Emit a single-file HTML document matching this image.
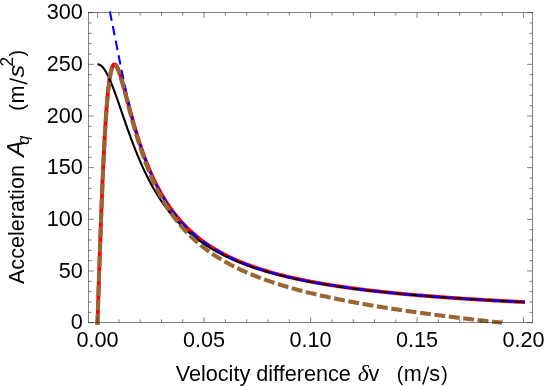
<!DOCTYPE html>
<html><head><meta charset="utf-8"><title>plot</title>
<style>
html,body{margin:0;padding:0;background:#fff;}
body{width:545px;height:386px;overflow:hidden;}
svg{display:block;}
text{font-family:"Liberation Sans",sans-serif;fill:#000;}
.it{font-style:italic;}
.ser{font-family:"Liberation Serif",serif;font-style:italic;}
</style></head><body>
<svg width="545" height="386" viewBox="0 0 545 386">
<rect x="0" y="0" width="545" height="386" fill="#fff"/>
<g fill="none" stroke-linejoin="round">
<path d="M97.43,324.85 L97.50,322.65 L97.50,322.61 L97.50,322.51 L97.51,322.32 L97.52,322.07 L97.53,321.75 L97.54,321.35 L97.56,320.88 L97.58,320.34 L97.60,319.72 L97.62,319.04 L97.64,318.28 L97.67,317.45 L97.70,316.55 L97.73,315.57 L97.77,314.53 L97.80,313.41 L97.84,312.22 L97.89,310.95 L97.93,309.62 L97.98,308.21 L98.03,306.74 L98.08,305.19 L98.13,303.57 L98.19,301.88 L98.24,300.12 L98.31,298.29 L98.37,296.39 L98.43,294.42 L98.50,292.38 L98.57,290.27 L98.64,288.10 L98.72,285.85 L98.80,283.54 L98.88,281.17 L98.96,278.73 L99.04,276.22 L99.13,273.65 L99.22,271.02 L99.31,268.33 L99.41,265.57 L99.50,262.76 L99.60,259.89 L99.70,256.96 L99.81,253.98 L99.91,250.95 L100.02,247.86 L100.13,244.72 L100.24,241.54 L100.36,238.31 L100.48,235.03 L100.60,231.71 L100.72,228.36 L100.85,224.96 L100.97,221.53 L101.10,218.07 L101.24,214.58 L101.37,211.06 L101.51,207.52 L101.65,203.95 L101.79,200.37 L101.93,196.77 L102.08,193.16 L102.23,189.54 L102.38,185.92 L102.53,182.29 L102.69,178.67 L102.85,175.05 L103.01,171.44 L103.17,167.84 L103.34,164.26 L103.50,160.69 L103.68,157.15 L103.85,153.63 L104.02,150.15 L104.20,146.69 L104.38,143.28 L104.56,139.90 L104.75,136.57 L104.93,133.28 L105.12,130.05 L105.32,126.86 L105.51,123.74 L105.71,120.67 L105.91,117.67 L106.11,114.73 L106.31,111.87 L106.52,109.07 L106.72,106.34 L106.94,103.69 L107.15,101.12 L107.36,98.63 L107.58,96.22 L107.80,93.89 L108.03,91.65 L108.25,89.49 L108.48,87.42 L108.71,85.44 L108.94,83.55 L109.18,81.74 L109.41,80.03 L109.65,78.41 L109.89,76.88 L110.14,75.44 L110.38,74.09 L110.63,72.84 L110.88,71.67 L111.14,70.59 L111.39,69.61 L111.65,68.71 L111.91,67.89 L112.18,67.17 L112.44,66.53 L112.71,65.97 L112.98,65.50 L113.25,65.11 L113.53,64.80 L113.81,64.57 L114.09,64.41 L114.37,64.33 L114.65,64.32 L114.94,64.39 L115.23,64.52 L115.52,64.72 L115.82,64.99 L116.11,65.32 L116.41,65.71 L116.71,66.17 L117.02,66.68 L117.32,67.24 L117.63,67.87 L117.94,68.54 L118.26,69.26 L118.57,70.03 L118.89,70.85 L119.21,71.71 L119.53,72.62 L119.86,73.56 L120.19,74.54 L120.52,75.56 L120.85,76.62 L121.18,77.71 L121.52,78.83 L121.86,79.98 L122.20,81.15 L122.55,82.36 L122.89,83.59 L123.24,84.84 L123.59,86.11 L123.95,87.41 L124.30,88.72 L124.66,90.05 L125.02,91.40 L125.38,92.77 L125.75,94.14 L126.12,95.54 L126.49,96.94 L126.86,98.35 L127.24,99.77 L127.61,101.20 L127.99,102.64 L128.38,104.09 L128.76,105.54 L129.15,106.99 L129.54,108.45 L129.93,109.91 L130.32,111.37 L130.72,112.84 L131.12,114.31 L131.52,115.77 L131.93,117.24 L132.33,118.70 L132.74,120.17 L133.15,121.63 L133.56,123.09 L133.98,124.54 L134.40,125.99 L134.82,127.44 L135.24,128.88 L135.67,130.32 L136.10,131.75 L136.53,133.18 L136.96,134.60 L137.39,136.01 L137.83,137.42 L138.27,138.82 L138.71,140.21 L139.16,141.59 L139.60,142.97 L140.05,144.34 L140.50,145.70 L140.96,147.05 L141.41,148.40 L141.87,149.73 L142.33,151.06 L142.80,152.38 L143.26,153.69 L143.73,154.99 L144.20,156.28 L144.67,157.56 L145.15,158.83 L145.63,160.09 L146.11,161.34 L146.59,162.59 L147.07,163.82 L147.56,165.04 L148.05,166.26 L148.54,167.46 L149.04,168.65 L149.53,169.84 L150.03,171.01 L150.53,172.18 L151.04,173.33 L151.54,174.48 L152.05,175.61 L152.56,176.74 L153.08,177.85 L153.59,178.96 L154.11,180.05 L154.63,181.14 L155.15,182.21 L155.68,183.28 L156.21,184.34 L156.74,185.39 L157.27,186.42 L157.80,187.45 L158.34,188.47 L158.88,189.48 L159.42,190.48 L159.97,191.47 L160.51,192.46 L161.06,193.43 L161.62,194.39 L162.17,195.35 L162.73,196.30 L163.28,197.23 L163.85,198.16 L164.41,199.08 L164.97,199.99 L165.54,200.90 L166.11,201.79 L166.69,202.68 L167.26,203.55 L167.84,204.42 L168.42,205.29 L169.00,206.14 L169.59,206.98 L170.17,207.82 L170.76,208.65 L171.36,209.47 L171.95,210.28 L172.55,211.09 L173.15,211.89 L173.75,212.68 L174.35,213.46 L174.96,214.24 L175.57,215.00 L176.18,215.76 L176.79,216.52 L177.41,217.26 L178.03,218.00 L178.65,218.74 L179.27,219.46 L179.89,220.18 L180.52,220.89 L181.15,221.60 L181.78,222.30 L182.42,222.99 L183.06,223.67 L183.70,224.35 L184.34,225.03 L184.98,225.69 L185.63,226.35 L186.28,227.01 L186.93,227.65 L187.58,228.30 L188.24,228.93 L188.90,229.56 L189.56,230.19 L190.22,230.80 L190.89,231.42 L191.56,232.02 L192.23,232.62 L192.90,233.22 L193.58,233.81 L194.26,234.40 L194.94,234.97 L195.62,235.55 L196.30,236.12 L196.99,236.68 L197.68,237.24 L198.37,237.79 L199.07,238.34 L199.76,238.88 L200.46,239.42 L201.16,239.96 L201.87,240.49 L202.58,241.01 L203.28,241.53 L203.99,242.04 L204.71,242.55 L205.42,243.06 L206.14,243.56 L206.86,244.06 L207.59,244.55 L208.31,245.04 L209.04,245.52 L209.77,246.00 L210.50,246.47 L211.24,246.94 L211.97,247.41 L212.71,247.87 L213.46,248.33 L214.20,248.78 L214.95,249.23 L215.70,249.68 L216.45,250.12 L217.20,250.56 L217.96,251.00 L218.72,251.43 L219.48,251.86 L220.24,252.28 L221.01,252.70 L221.78,253.12 L222.55,253.53 L223.32,253.94 L224.10,254.34 L224.87,254.75 L225.65,255.15 L226.44,255.54 L227.22,255.93 L228.01,256.32 L228.80,256.71 L229.59,257.09 L230.39,257.47 L231.18,257.85 L231.98,258.22 L232.78,258.59 L233.59,258.96 L234.39,259.32 L235.20,259.68 L236.01,260.04 L236.83,260.39 L237.64,260.74 L238.46,261.09 L239.28,261.44 L240.11,261.78 L240.93,262.12 L241.76,262.46 L242.59,262.80 L243.42,263.13 L244.26,263.46 L245.10,263.78 L245.93,264.11 L246.78,264.43 L247.62,264.75 L248.47,265.07 L249.32,265.38 L250.17,265.69 L251.02,266.00 L251.88,266.31 L252.74,266.61 L253.60,266.91 L254.46,267.21 L255.33,267.51 L256.20,267.81 L257.07,268.10 L257.94,268.39 L258.82,268.68 L259.70,268.96 L260.58,269.25 L261.46,269.53 L262.34,269.81 L263.23,270.08 L264.12,270.36 L265.01,270.63 L265.91,270.90 L266.80,271.17 L267.70,271.44 L268.61,271.70 L269.51,271.96 L270.42,272.22 L271.33,272.48 L272.24,272.74 L273.15,273.00 L274.07,273.25 L274.98,273.50 L275.91,273.75 L276.83,274.00 L277.75,274.24 L278.68,274.48 L279.61,274.73 L280.55,274.97 L281.48,275.20 L282.42,275.44 L283.36,275.68 L284.30,275.91 L285.24,276.14 L286.19,276.37 L287.14,276.60 L288.09,276.82 L289.05,277.05 L290.00,277.27 L290.96,277.49 L291.92,277.71 L292.89,277.93 L293.85,278.15 L294.82,278.36 L295.79,278.58 L296.77,278.79 L297.74,279.00 L298.72,279.21 L299.70,279.42 L300.68,279.62 L301.67,279.83 L302.66,280.03 L303.65,280.23 L304.64,280.43 L305.63,280.63 L306.63,280.83 L307.63,281.03 L308.63,281.22 L309.63,281.41 L310.64,281.61 L311.65,281.80 L312.66,281.99 L313.68,282.18 L314.69,282.36 L315.71,282.55 L316.73,282.73 L317.75,282.92 L318.78,283.10 L319.81,283.28 L320.84,283.46 L321.87,283.64 L322.91,283.81 L323.94,283.99 L324.98,284.16 L326.03,284.34 L327.07,284.51 L328.12,284.68 L329.17,284.85 L330.22,285.02 L331.27,285.19 L332.33,285.36 L333.39,285.52 L334.45,285.69 L335.51,285.85 L336.58,286.01 L337.65,286.17 L338.72,286.33 L339.79,286.49 L340.87,286.65 L341.95,286.81 L343.03,286.96 L344.11,287.12 L345.19,287.27 L346.28,287.43 L347.37,287.58 L348.46,287.73 L349.56,287.88 L350.66,288.03 L351.76,288.18 L352.86,288.33 L353.96,288.47 L355.07,288.62 L356.18,288.76 L357.29,288.91 L358.40,289.05 L359.52,289.19 L360.64,289.33 L361.76,289.47 L362.88,289.61 L364.01,289.75 L365.14,289.89 L366.27,290.02 L367.40,290.16 L368.53,290.29 L369.67,290.43 L370.81,290.56 L371.95,290.69 L373.10,290.83 L374.25,290.96 L375.40,291.09 L376.55,291.22 L377.70,291.35 L378.86,291.47 L380.02,291.60 L381.18,291.73 L382.34,291.85 L383.51,291.98 L384.68,292.10 L385.85,292.22 L387.02,292.35 L388.20,292.47 L389.38,292.59 L390.56,292.71 L391.74,292.83 L392.92,292.95 L394.11,293.07 L395.30,293.18 L396.49,293.30 L397.69,293.42 L398.89,293.53 L400.09,293.65 L401.29,293.76 L402.49,293.87 L403.70,293.99 L404.91,294.10 L406.12,294.21 L407.33,294.32 L408.55,294.43 L409.77,294.54 L410.99,294.65 L412.21,294.76 L413.44,294.86 L414.67,294.97 L415.90,295.08 L417.13,295.18 L418.36,295.29 L419.60,295.39 L420.84,295.50 L422.08,295.60 L423.33,295.70 L424.58,295.81 L425.83,295.91 L427.08,296.01 L428.33,296.11 L429.59,296.21 L430.85,296.31 L432.11,296.41 L433.37,296.51 L434.64,296.60 L435.91,296.70 L437.18,296.80 L438.45,296.89 L439.73,296.99 L441.01,297.08 L442.29,297.18 L443.57,297.27 L444.86,297.37 L446.14,297.46 L447.43,297.55 L448.73,297.64 L450.02,297.73 L451.32,297.82 L452.62,297.92 L453.92,298.01 L455.22,298.09 L456.53,298.18 L457.84,298.27 L459.15,298.36 L460.47,298.45 L461.78,298.53 L463.10,298.62 L464.42,298.71 L465.74,298.79 L467.07,298.88 L468.40,298.96 L469.73,299.05 L471.06,299.13 L472.40,299.21 L473.74,299.30 L475.08,299.38 L476.42,299.46 L477.76,299.54 L479.11,299.63 L480.46,299.71 L481.81,299.79 L483.17,299.87 L484.52,299.95 L485.88,300.03 L487.24,300.10 L488.61,300.18 L489.97,300.26 L491.34,300.34 L492.71,300.41 L494.09,300.49 L495.46,300.57 L496.84,300.64 L498.22,300.72 L499.60,300.79 L500.99,300.87 L502.38,300.94 L503.77,301.02 L505.16,301.09 L506.56,301.16 L507.95,301.24 L509.35,301.31 L510.75,301.38 L512.16,301.45 L513.57,301.53 L514.97,301.60 L516.39,301.67 L517.80,301.74 L519.22,301.81 L520.64,301.88 L522.06,301.95 L523.48,302.02 L524.91,302.08" stroke="#ff0000" stroke-width="3.8"/>
<path d="M97.50,64.32 L97.50,64.32 L97.50,64.32 L97.51,64.32 L97.52,64.32 L97.53,64.32 L97.54,64.32 L97.56,64.32 L97.58,64.32 L97.60,64.32 L97.62,64.32 L97.64,64.32 L97.67,64.32 L97.70,64.32 L97.73,64.32 L97.77,64.32 L97.80,64.33 L97.84,64.33 L97.89,64.33 L97.93,64.34 L97.98,64.34 L98.03,64.35 L98.08,64.35 L98.13,64.36 L98.19,64.37 L98.24,64.38 L98.31,64.39 L98.37,64.40 L98.43,64.41 L98.50,64.43 L98.57,64.44 L98.64,64.46 L98.72,64.48 L98.80,64.50 L98.88,64.53 L98.96,64.55 L99.04,64.58 L99.13,64.61 L99.22,64.65 L99.31,64.68 L99.41,64.72 L99.50,64.76 L99.60,64.81 L99.70,64.85 L99.81,64.91 L99.91,64.96 L100.02,65.02 L100.13,65.08 L100.24,65.15 L100.36,65.22 L100.48,65.30 L100.60,65.38 L100.72,65.46 L100.85,65.55 L100.97,65.65 L101.10,65.75 L101.24,65.85 L101.37,65.97 L101.51,66.08 L101.65,66.21 L101.79,66.34 L101.93,66.47 L102.08,66.62 L102.23,66.77 L102.38,66.92 L102.53,67.09 L102.69,67.26 L102.85,67.44 L103.01,67.63 L103.17,67.82 L103.34,68.02 L103.50,68.24 L103.68,68.46 L103.85,68.68 L104.02,68.92 L104.20,69.17 L104.38,69.43 L104.56,69.69 L104.75,69.97 L104.93,70.25 L105.12,70.55 L105.32,70.85 L105.51,71.17 L105.71,71.50 L105.91,71.83 L106.11,72.18 L106.31,72.54 L106.52,72.91 L106.72,73.29 L106.94,73.68 L107.15,74.09 L107.36,74.50 L107.58,74.93 L107.80,75.37 L108.03,75.82 L108.25,76.28 L108.48,76.76 L108.71,77.25 L108.94,77.75 L109.18,78.26 L109.41,78.78 L109.65,79.32 L109.89,79.87 L110.14,80.43 L110.38,81.01 L110.63,81.60 L110.88,82.20 L111.14,82.81 L111.39,83.43 L111.65,84.07 L111.91,84.72 L112.18,85.38 L112.44,86.06 L112.71,86.75 L112.98,87.45 L113.25,88.16 L113.53,88.88 L113.81,89.62 L114.09,90.37 L114.37,91.13 L114.65,91.90 L114.94,92.68 L115.23,93.48 L115.52,94.28 L115.82,95.10 L116.11,95.93 L116.41,96.76 L116.71,97.61 L117.02,98.47 L117.32,99.34 L117.63,100.22 L117.94,101.11 L118.26,102.01 L118.57,102.92 L118.89,103.84 L119.21,104.77 L119.53,105.71 L119.86,106.65 L120.19,107.60 L120.52,108.56 L120.85,109.53 L121.18,110.51 L121.52,111.49 L121.86,112.48 L122.20,113.48 L122.55,114.48 L122.89,115.49 L123.24,116.51 L123.59,117.53 L123.95,118.56 L124.30,119.59 L124.66,120.63 L125.02,121.67 L125.38,122.71 L125.75,123.76 L126.12,124.82 L126.49,125.88 L126.86,126.94 L127.24,128.00 L127.61,129.07 L127.99,130.14 L128.38,131.21 L128.76,132.28 L129.15,133.35 L129.54,134.43 L129.93,135.51 L130.32,136.59 L130.72,137.67 L131.12,138.75 L131.52,139.83 L131.93,140.91 L132.33,141.98 L132.74,143.06 L133.15,144.14 L133.56,145.22 L133.98,146.30 L134.40,147.37 L134.82,148.45 L135.24,149.52 L135.67,150.59 L136.10,151.66 L136.53,152.73 L136.96,153.79 L137.39,154.85 L137.83,155.91 L138.27,156.97 L138.71,158.02 L139.16,159.07 L139.60,160.11 L140.05,161.16 L140.50,162.20 L140.96,163.23 L141.41,164.26 L141.87,165.29 L142.33,166.31 L142.80,167.33 L143.26,168.35 L143.73,169.36 L144.20,170.37 L144.67,171.37 L145.15,172.36 L145.63,173.36 L146.11,174.34 L146.59,175.32 L147.07,176.30 L147.56,177.27 L148.05,178.24 L148.54,179.20 L149.04,180.16 L149.53,181.11 L150.03,182.05 L150.53,182.99 L151.04,183.93 L151.54,184.85 L152.05,185.78 L152.56,186.70 L153.08,187.61 L153.59,188.51 L154.11,189.41 L154.63,190.31 L155.15,191.20 L155.68,192.08 L156.21,192.95 L156.74,193.83 L157.27,194.69 L157.80,195.55 L158.34,196.40 L158.88,197.25 L159.42,198.09 L159.97,198.93 L160.51,199.76 L161.06,200.58 L161.62,201.40 L162.17,202.21 L162.73,203.02 L163.28,203.82 L163.85,204.61 L164.41,205.40 L164.97,206.18 L165.54,206.96 L166.11,207.73 L166.69,208.50 L167.26,209.26 L167.84,210.01 L168.42,210.76 L169.00,211.50 L169.59,212.24 L170.17,212.97 L170.76,213.69 L171.36,214.41 L171.95,215.13 L172.55,215.83 L173.15,216.54 L173.75,217.24 L174.35,217.93 L174.96,218.61 L175.57,219.29 L176.18,219.97 L176.79,220.64 L177.41,221.30 L178.03,221.96 L178.65,222.62 L179.27,223.27 L179.89,223.91 L180.52,224.55 L181.15,225.18 L181.78,225.81 L182.42,226.43 L183.06,227.05 L183.70,227.67 L184.34,228.27 L184.98,228.88 L185.63,229.48 L186.28,230.07 L186.93,230.66 L187.58,231.24 L188.24,231.82 L188.90,232.40 L189.56,232.97 L190.22,233.53 L190.89,234.09 L191.56,234.65 L192.23,235.20 L192.90,235.75 L193.58,236.29 L194.26,236.83 L194.94,237.36 L195.62,237.89 L196.30,238.41 L196.99,238.93 L197.68,239.45 L198.37,239.96 L199.07,240.47 L199.76,240.97 L200.46,241.47 L201.16,241.97 L201.87,242.46 L202.58,242.95 L203.28,243.43 L203.99,243.91 L204.71,244.39 L205.42,244.86 L206.14,245.33 L206.86,245.79 L207.59,246.25 L208.31,246.71 L209.04,247.16 L209.77,247.61 L210.50,248.06 L211.24,248.50 L211.97,248.94 L212.71,249.37 L213.46,249.81 L214.20,250.23 L214.95,250.66 L215.70,251.08 L216.45,251.50 L217.20,251.91 L217.96,252.32 L218.72,252.73 L219.48,253.14 L220.24,253.54 L221.01,253.94 L221.78,254.33 L222.55,254.72 L223.32,255.11 L224.10,255.50 L224.87,255.88 L225.65,256.26 L226.44,256.64 L227.22,257.01 L228.01,257.38 L228.80,257.75 L229.59,258.11 L230.39,258.47 L231.18,258.83 L231.98,259.19 L232.78,259.54 L233.59,259.89 L234.39,260.24 L235.20,260.59 L236.01,260.93 L236.83,261.27 L237.64,261.61 L238.46,261.94 L239.28,262.27 L240.11,262.60 L240.93,262.93 L241.76,263.26 L242.59,263.58 L243.42,263.90 L244.26,264.21 L245.10,264.53 L245.93,264.84 L246.78,265.15 L247.62,265.46 L248.47,265.76 L249.32,266.07 L250.17,266.37 L251.02,266.67 L251.88,266.96 L252.74,267.26 L253.60,267.55 L254.46,267.84 L255.33,268.13 L256.20,268.41 L257.07,268.69 L257.94,268.97 L258.82,269.25 L259.70,269.53 L260.58,269.80 L261.46,270.08 L262.34,270.35 L263.23,270.62 L264.12,270.88 L265.01,271.15 L265.91,271.41 L266.80,271.67 L267.70,271.93 L268.61,272.19 L269.51,272.44 L270.42,272.70 L271.33,272.95 L272.24,273.20 L273.15,273.45 L274.07,273.69 L274.98,273.94 L275.91,274.18 L276.83,274.42 L277.75,274.66 L278.68,274.90 L279.61,275.13 L280.55,275.37 L281.48,275.60 L282.42,275.83 L283.36,276.06 L284.30,276.28 L285.24,276.51 L286.19,276.73 L287.14,276.96 L288.09,277.18 L289.05,277.40 L290.00,277.62 L290.96,277.83 L291.92,278.05 L292.89,278.26 L293.85,278.47 L294.82,278.68 L295.79,278.89 L296.77,279.10 L297.74,279.31 L298.72,279.51 L299.70,279.71 L300.68,279.92 L301.67,280.12 L302.66,280.32 L303.65,280.51 L304.64,280.71 L305.63,280.91 L306.63,281.10 L307.63,281.29 L308.63,281.48 L309.63,281.67 L310.64,281.86 L311.65,282.05 L312.66,282.24 L313.68,282.42 L314.69,282.60 L315.71,282.79 L316.73,282.97 L317.75,283.15 L318.78,283.33 L319.81,283.50 L320.84,283.68 L321.87,283.86 L322.91,284.03 L323.94,284.20 L324.98,284.38 L326.03,284.55 L327.07,284.72 L328.12,284.88 L329.17,285.05 L330.22,285.22 L331.27,285.38 L332.33,285.55 L333.39,285.71 L334.45,285.87 L335.51,286.03 L336.58,286.19 L337.65,286.35 L338.72,286.51 L339.79,286.67 L340.87,286.82 L341.95,286.98 L343.03,287.13 L344.11,287.29 L345.19,287.44 L346.28,287.59 L347.37,287.74 L348.46,287.89 L349.56,288.04 L350.66,288.18 L351.76,288.33 L352.86,288.48 L353.96,288.62 L355.07,288.76 L356.18,288.91 L357.29,289.05 L358.40,289.19 L359.52,289.33 L360.64,289.47 L361.76,289.61 L362.88,289.75 L364.01,289.88 L365.14,290.02 L366.27,290.15 L367.40,290.29 L368.53,290.42 L369.67,290.55 L370.81,290.69 L371.95,290.82 L373.10,290.95 L374.25,291.08 L375.40,291.20 L376.55,291.33 L377.70,291.46 L378.86,291.59 L380.02,291.71 L381.18,291.84 L382.34,291.96 L383.51,292.08 L384.68,292.21 L385.85,292.33 L387.02,292.45 L388.20,292.57 L389.38,292.69 L390.56,292.81 L391.74,292.93 L392.92,293.05 L394.11,293.16 L395.30,293.28 L396.49,293.39 L397.69,293.51 L398.89,293.62 L400.09,293.74 L401.29,293.85 L402.49,293.96 L403.70,294.07 L404.91,294.18 L406.12,294.30 L407.33,294.41 L408.55,294.51 L409.77,294.62 L410.99,294.73 L412.21,294.84 L413.44,294.94 L414.67,295.05 L415.90,295.16 L417.13,295.26 L418.36,295.37 L419.60,295.47 L420.84,295.57 L422.08,295.67 L423.33,295.78 L424.58,295.88 L425.83,295.98 L427.08,296.08 L428.33,296.18 L429.59,296.28 L430.85,296.38 L432.11,296.47 L433.37,296.57 L434.64,296.67 L435.91,296.77 L437.18,296.86 L438.45,296.96 L439.73,297.05 L441.01,297.15 L442.29,297.24 L443.57,297.33 L444.86,297.43 L446.14,297.52 L447.43,297.61 L448.73,297.70 L450.02,297.79 L451.32,297.88 L452.62,297.97 L453.92,298.06 L455.22,298.15 L456.53,298.24 L457.84,298.33 L459.15,298.41 L460.47,298.50 L461.78,298.59 L463.10,298.67 L464.42,298.76 L465.74,298.84 L467.07,298.93 L468.40,299.01 L469.73,299.10 L471.06,299.18 L472.40,299.26 L473.74,299.35 L475.08,299.43 L476.42,299.51 L477.76,299.59 L479.11,299.67 L480.46,299.75 L481.81,299.83 L483.17,299.91 L484.52,299.99 L485.88,300.07 L487.24,300.15 L488.61,300.22 L489.97,300.30 L491.34,300.38 L492.71,300.46 L494.09,300.53 L495.46,300.61 L496.84,300.68 L498.22,300.76 L499.60,300.83 L500.99,300.91 L502.38,300.98 L503.77,301.06 L505.16,301.13 L506.56,301.20 L507.95,301.27 L509.35,301.35 L510.75,301.42 L512.16,301.49 L513.57,301.56 L514.97,301.63 L516.39,301.70 L517.80,301.77 L519.22,301.84 L520.64,301.91 L522.06,301.98 L523.48,302.05 L524.91,302.12" stroke="#000" stroke-width="2.1"/>
<path d="M109.86,11.41 L109.86,11.42 L109.86,11.43 L109.87,11.46 L109.88,11.50 L109.89,11.56 L109.90,11.62 L109.92,11.70 L109.93,11.79 L109.95,11.89 L109.98,12.00 L110.00,12.12 L110.03,12.26 L110.06,12.41 L110.09,12.57 L110.12,12.74 L110.16,12.92 L110.19,13.11 L110.23,13.32 L110.28,13.54 L110.32,13.76 L110.37,14.00 L110.42,14.26 L110.47,14.52 L110.53,14.79 L110.58,15.08 L110.64,15.38 L110.70,15.68 L110.77,16.00 L110.83,16.34 L110.90,16.68 L110.97,17.03 L111.04,17.40 L111.12,17.77 L111.20,18.16 L111.28,18.56 L111.36,18.97 L111.44,19.40 L111.53,19.83 L111.62,20.28 L111.71,20.73 L111.80,21.20 L111.90,21.68 L112.00,22.17 L112.10,22.68 L112.20,23.19 L112.31,23.72 L112.42,24.25 L112.53,24.80 L112.64,25.37 L112.75,25.94 L112.87,26.52 L112.99,27.12 L113.11,27.73 L113.23,28.35 L113.36,28.98 L113.49,29.63 L113.62,30.29 L113.75,30.95 L113.89,31.64 L114.02,32.33 L114.16,33.03 L114.31,33.75 L114.45,34.48 L114.60,35.22 L114.75,35.98 L114.90,36.74 L115.05,37.52 L115.21,38.31 L115.37,39.11 L115.53,39.93 L115.69,40.76 L115.86,41.59 L116.02,42.44 L116.19,43.31 L116.37,44.18 L116.54,45.07 L116.72,45.96 L116.90,46.87 L117.08,47.79 L117.26,48.73 L117.45,49.67 L117.64,50.62 L117.83,51.59 L118.02,52.56 L118.22,53.55 L118.42,54.55 L118.62,55.56 L118.82,56.57 L119.02,57.60 L119.23,58.64 L119.44,59.69 L119.65,60.75 L119.86,61.81 L120.08,62.89 L120.30,63.97 L120.52,65.07 L120.74,66.17 L120.97,67.28 L121.20,68.39 L121.43,69.52 L121.66,70.65 L121.89,71.79 L122.13,72.94 L122.37,74.10 L122.61,75.26 L122.86,76.43 L123.10,77.60 L123.35,78.78 L123.60,79.96 L123.86,81.15 L124.11,82.35 L124.37,83.55 L124.63,84.75 L124.89,85.96 L125.16,87.18 L125.43,88.39 L125.69,89.61 L125.97,90.84 L126.24,92.06 L126.52,93.29 L126.80,94.52 L127.08,95.76 L127.36,96.99 L127.65,98.23 L127.93,99.47 L128.22,100.71 L128.52,101.95 L128.81,103.20 L129.11,104.44 L129.41,105.68 L129.71,106.92 L130.02,108.17 L130.32,109.41 L130.63,110.65 L130.94,111.90 L131.26,113.14 L131.57,114.38 L131.89,115.62 L132.21,116.85 L132.53,118.09 L132.86,119.32 L133.18,120.55 L133.51,121.78 L133.85,123.01 L134.18,124.23 L134.52,125.45 L134.86,126.67 L135.20,127.88 L135.54,129.10 L135.89,130.30 L136.24,131.51 L136.59,132.71 L136.94,133.91 L137.29,135.10 L137.65,136.29 L138.01,137.48 L138.37,138.66 L138.74,139.83 L139.10,141.00 L139.47,142.17 L139.84,143.33 L140.22,144.49 L140.59,145.64 L140.97,146.79 L141.35,147.93 L141.74,149.07 L142.12,150.20 L142.51,151.32 L142.90,152.44 L143.29,153.56 L143.68,154.67 L144.08,155.77 L144.48,156.87 L144.88,157.96 L145.29,159.05 L145.69,160.13 L146.10,161.20 L146.51,162.27 L146.92,163.33 L147.34,164.38 L147.76,165.43 L148.18,166.48 L148.60,167.51 L149.02,168.54 L149.45,169.57 L149.88,170.59 L150.31,171.60 L150.74,172.60 L151.18,173.60 L151.62,174.59 L152.06,175.58 L152.50,176.56 L152.95,177.53 L153.40,178.50 L153.85,179.46 L154.30,180.41 L154.75,181.36 L155.21,182.30 L155.67,183.23 L156.13,184.16 L156.59,185.08 L157.06,186.00 L157.53,186.91 L158.00,187.81 L158.47,188.70 L158.95,189.59 L159.43,190.47 L159.91,191.35 L160.39,192.22 L160.87,193.08 L161.36,193.94 L161.85,194.79 L162.34,195.64 L162.83,196.47 L163.33,197.30 L163.83,198.13 L164.33,198.95 L164.83,199.76 L165.34,200.57 L165.85,201.37 L166.36,202.17 L166.87,202.95 L167.38,203.74 L167.90,204.51 L168.42,205.28 L168.94,206.05 L169.47,206.81 L169.99,207.56 L170.52,208.31 L171.05,209.05 L171.59,209.78 L172.12,210.51 L172.66,211.24 L173.20,211.96 L173.74,212.67 L174.29,213.38 L174.83,214.08 L175.38,214.77 L175.94,215.46 L176.49,216.15 L177.05,216.83 L177.60,217.50 L178.17,218.17 L178.73,218.83 L179.29,219.49 L179.86,220.14 L180.43,220.79 L181.01,221.43 L181.58,222.07 L182.16,222.70 L182.74,223.33 L183.32,223.95 L183.90,224.57 L184.49,225.18 L185.08,225.79 L185.67,226.39 L186.26,226.99 L186.86,227.58 L187.46,228.17 L188.06,228.75 L188.66,229.33 L189.26,229.91 L189.87,230.48 L190.48,231.04 L191.09,231.60 L191.71,232.16 L192.32,232.71 L192.94,233.26 L193.56,233.80 L194.19,234.34 L194.81,234.87 L195.44,235.40 L196.07,235.93 L196.70,236.45 L197.34,236.96 L197.98,237.48 L198.62,237.99 L199.26,238.49 L199.90,238.99 L200.55,239.49 L201.20,239.98 L201.85,240.47 L202.50,240.96 L203.16,241.44 L203.82,241.92 L204.48,242.39 L205.14,242.86 L205.81,243.33 L206.47,243.79 L207.14,244.25 L207.82,244.70 L208.49,245.15 L209.17,245.60 L209.85,246.05 L210.53,246.49 L211.21,246.93 L211.90,247.36 L212.58,247.79 L213.28,248.22 L213.97,248.64 L214.66,249.06 L215.36,249.48 L216.06,249.90 L216.76,250.31 L217.47,250.71 L218.17,251.12 L218.88,251.52 L219.59,251.92 L220.31,252.32 L221.02,252.71 L221.74,253.10 L222.46,253.48 L223.19,253.87 L223.91,254.25 L224.64,254.63 L225.37,255.00 L226.10,255.37 L226.84,255.74 L227.57,256.11 L228.31,256.47 L229.05,256.83 L229.80,257.19 L230.54,257.54 L231.29,257.90 L232.04,258.25 L232.80,258.59 L233.55,258.94 L234.31,259.28 L235.07,259.62 L235.83,259.96 L236.60,260.29 L237.36,260.62 L238.13,260.95 L238.90,261.28 L239.68,261.60 L240.45,261.93 L241.23,262.25 L242.01,262.56 L242.80,262.88 L243.58,263.19 L244.37,263.50 L245.16,263.81 L245.95,264.12 L246.75,264.42 L247.54,264.72 L248.34,265.02 L249.14,265.32 L249.95,265.61 L250.75,265.90 L251.56,266.20 L252.37,266.48 L253.19,266.77 L254.00,267.05 L254.82,267.34 L255.64,267.62 L256.46,267.90 L257.29,268.17 L258.11,268.45 L258.94,268.72 L259.78,268.99 L260.61,269.26 L261.45,269.52 L262.28,269.79 L263.13,270.05 L263.97,270.31 L264.81,270.57 L265.66,270.83 L266.51,271.08 L267.37,271.34 L268.22,271.59 L269.08,271.84 L269.94,272.09 L270.80,272.33 L271.66,272.58 L272.53,272.82 L273.40,273.06 L274.27,273.30 L275.14,273.54 L276.02,273.78 L276.90,274.01 L277.78,274.25 L278.66,274.48 L279.54,274.71 L280.43,274.94 L281.32,275.16 L282.21,275.39 L283.11,275.61 L284.00,275.84 L284.90,276.06 L285.80,276.28 L286.71,276.49 L287.61,276.71 L288.52,276.92 L289.43,277.14 L290.34,277.35 L291.26,277.56 L292.18,277.77 L293.10,277.98 L294.02,278.18 L294.94,278.39 L295.87,278.59 L296.80,278.80 L297.73,279.00 L298.66,279.20 L299.60,279.39 L300.54,279.59 L301.48,279.79 L302.42,279.98 L303.36,280.17 L304.31,280.37 L305.26,280.56 L306.21,280.75 L307.17,280.94 L308.12,281.12 L309.08,281.31 L310.04,281.49 L311.01,281.68 L311.97,281.86 L312.94,282.04 L313.91,282.22 L314.88,282.40 L315.86,282.58 L316.84,282.75 L317.82,282.93 L318.80,283.10 L319.78,283.27 L320.77,283.45 L321.76,283.62 L322.75,283.79 L323.74,283.96 L324.74,284.12 L325.74,284.29 L326.74,284.46 L327.74,284.62 L328.75,284.78 L329.76,284.95 L330.76,285.11 L331.78,285.27 L332.79,285.43 L333.81,285.59 L334.83,285.74 L335.85,285.90 L336.87,286.06 L337.90,286.21 L338.93,286.36 L339.96,286.52 L340.99,286.67 L342.03,286.82 L343.06,286.97 L344.10,287.12 L345.15,287.27 L346.19,287.41 L347.24,287.56 L348.29,287.71 L349.34,287.85 L350.39,287.99 L351.45,288.14 L352.51,288.28 L353.57,288.42 L354.63,288.56 L355.70,288.70 L356.76,288.84 L357.83,288.98 L358.91,289.11 L359.98,289.25 L361.06,289.38 L362.14,289.52 L363.22,289.65 L364.30,289.79 L365.39,289.92 L366.48,290.05 L367.57,290.18 L368.66,290.31 L369.76,290.44 L370.85,290.57 L371.95,290.69 L373.06,290.82 L374.16,290.95 L375.27,291.07 L376.38,291.20 L377.49,291.32 L378.60,291.45 L379.72,291.57 L380.84,291.69 L381.96,291.81 L383.08,291.93 L384.21,292.05 L385.33,292.17 L386.47,292.29 L387.60,292.41 L388.73,292.52 L389.87,292.64 L391.01,292.76 L392.15,292.87 L393.29,292.98 L394.44,293.10 L395.59,293.21 L396.74,293.32 L397.89,293.44 L399.05,293.55 L400.21,293.66 L401.37,293.77 L402.53,293.88 L403.69,293.99 L404.86,294.09 L406.03,294.20 L407.20,294.31 L408.38,294.41 L409.55,294.52 L410.73,294.63 L411.91,294.73 L413.10,294.83 L414.28,294.94 L415.47,295.04 L416.66,295.14 L417.85,295.25 L419.05,295.35 L420.25,295.45 L421.45,295.55 L422.65,295.65 L423.85,295.75 L425.06,295.84 L426.27,295.94 L427.48,296.04 L428.69,296.14 L429.91,296.23 L431.13,296.33 L432.35,296.43 L433.57,296.52 L434.79,296.61 L436.02,296.71 L437.25,296.80 L438.48,296.89 L439.72,296.99 L440.95,297.08 L442.19,297.17 L443.43,297.26 L444.68,297.35 L445.92,297.44 L447.17,297.53 L448.42,297.62 L449.67,297.71 L450.93,297.80 L452.19,297.89 L453.45,297.97 L454.71,298.06 L455.97,298.15 L457.24,298.23 L458.51,298.32 L459.78,298.40 L461.05,298.49 L462.33,298.57 L463.61,298.65 L464.89,298.74 L466.17,298.82 L467.46,298.90 L468.74,298.98 L470.03,299.07 L471.32,299.15 L472.62,299.23 L473.92,299.31 L475.21,299.39 L476.52,299.47 L477.82,299.55 L479.13,299.63 L480.43,299.70 L481.74,299.78 L483.06,299.86 L484.37,299.94 L485.69,300.01 L487.01,300.09 L488.33,300.17 L489.66,300.24 L490.98,300.32 L492.31,300.39 L493.64,300.47 L494.98,300.54 L496.31,300.61 L497.65,300.69 L498.99,300.76 L500.34,300.83 L501.68,300.91 L503.03,300.98 L504.38,301.05 L505.73,301.12 L507.09,301.19 L508.44,301.26 L509.80,301.33 L511.16,301.40 L512.53,301.47 L513.89,301.54 L515.26,301.61 L516.63,301.68 L518.01,301.75 L519.38,301.82 L520.76,301.88 L522.14,301.95 L523.52,302.02 L524.91,302.08" stroke="#0000ff" stroke-width="2.1" stroke-dasharray="9.47 5.44"/>
<path d="M97.43,324.84 L97.50,322.65 L97.50,322.62 L97.50,322.51 L97.51,322.34 L97.52,322.10 L97.53,321.80 L97.54,321.42 L97.56,320.98 L97.57,320.47 L97.59,319.89 L97.61,319.24 L97.64,318.52 L97.66,317.74 L97.69,316.89 L97.72,315.96 L97.75,314.98 L97.79,313.92 L97.83,312.79 L97.87,311.60 L97.91,310.34 L97.95,309.01 L98.00,307.62 L98.05,306.16 L98.10,304.63 L98.15,303.03 L98.20,301.37 L98.26,299.63 L98.32,297.84 L98.38,295.98 L98.45,294.05 L98.51,292.06 L98.58,290.00 L98.65,287.88 L98.73,285.69 L98.80,283.44 L98.88,281.13 L98.96,278.76 L99.04,276.33 L99.13,273.84 L99.21,271.28 L99.30,268.67 L99.39,266.01 L99.49,263.28 L99.58,260.50 L99.68,257.67 L99.78,254.79 L99.88,251.85 L99.99,248.87 L100.10,245.84 L100.21,242.76 L100.32,239.64 L100.43,236.47 L100.55,233.27 L100.67,230.03 L100.79,226.75 L100.91,223.43 L101.03,220.09 L101.16,216.71 L101.29,213.31 L101.42,209.89 L101.56,206.44 L101.69,202.97 L101.83,199.49 L101.97,196.00 L102.12,192.49 L102.26,188.98 L102.41,185.46 L102.56,181.94 L102.71,178.42 L102.87,174.91 L103.02,171.41 L103.18,167.92 L103.34,164.44 L103.51,160.98 L103.67,157.55 L103.84,154.13 L104.01,150.75 L104.18,147.40 L104.36,144.08 L104.53,140.80 L104.71,137.56 L104.89,134.36 L105.08,131.21 L105.26,128.12 L105.45,125.07 L105.64,122.08 L105.84,119.15 L106.03,116.28 L106.23,113.48 L106.43,110.74 L106.63,108.06 L106.83,105.46 L107.04,102.93 L107.25,100.48 L107.46,98.10 L107.67,95.80 L107.89,93.58 L108.10,91.44 L108.32,89.39 L108.55,87.41 L108.77,85.52 L109.00,83.72 L109.23,81.99 L109.46,80.36 L109.69,78.81 L109.93,77.35 L110.16,75.97 L110.40,74.68 L110.65,73.48 L110.89,72.36 L111.14,71.33 L111.39,70.38 L111.64,69.51 L111.89,68.73 L112.15,68.03 L112.41,67.41 L112.67,66.88 L112.93,66.42 L113.19,66.03 L113.46,65.73 L113.73,65.50 L114.00,65.34 L114.28,65.25 L114.55,65.23 L114.83,65.29 L115.11,65.41 L115.39,65.59 L115.68,65.84 L115.97,66.14 L116.26,66.51 L116.55,66.94 L116.84,67.42 L117.14,67.95 L117.44,68.54 L117.74,69.18 L118.04,69.87 L118.35,70.60 L118.65,71.38 L118.96,72.21 L119.28,73.07 L119.59,73.97 L119.91,74.92 L120.23,75.90 L120.55,76.91 L120.87,77.95 L121.20,79.03 L121.53,80.14 L121.86,81.28 L122.19,82.44 L122.52,83.63 L122.86,84.84 L123.20,86.07 L123.54,87.33 L123.88,88.60 L124.23,89.90 L124.58,91.21 L124.93,92.54 L125.28,93.88 L125.64,95.23 L125.99,96.60 L126.35,97.98 L126.72,99.37 L127.08,100.77 L127.45,102.18 L127.81,103.59 L128.19,105.01 L128.56,106.44 L128.93,107.87 L129.31,109.31 L129.69,110.75 L130.07,112.20 L130.46,113.64 L130.84,115.09 L131.23,116.53 L131.62,117.98 L132.02,119.43 L132.41,120.88 L132.81,122.32 L133.21,123.76 L133.61,125.20 L134.02,126.64 L134.43,128.07 L134.83,129.50 L135.25,130.93 L135.66,132.35 L136.08,133.76 L136.49,135.17 L136.91,136.58 L137.34,137.97 L137.76,139.37 L138.19,140.75 L138.62,142.13 L139.05,143.50 L139.48,144.87 L139.92,146.23 L140.36,147.58 L140.80,148.92 L141.24,150.25 L141.69,151.58 L142.13,152.90 L142.58,154.21 L143.04,155.51 L143.49,156.80 L143.95,158.09 L144.41,159.36 L144.87,160.63 L145.33,161.89 L145.80,163.14 L146.26,164.38 L146.73,165.61 L147.21,166.83 L147.68,168.04 L148.16,169.25 L148.64,170.44 L149.12,171.63 L149.60,172.80 L150.09,173.97 L150.57,175.13 L151.06,176.28 L151.56,177.42 L152.05,178.55 L152.55,179.67 L153.05,180.78 L153.55,181.88 L154.05,182.98 L154.56,184.06 L155.07,185.14 L155.58,186.20 L156.09,187.26 L156.61,188.31 L157.12,189.35 L157.64,190.38 L158.17,191.41 L158.69,192.42 L159.22,193.42 L159.74,194.42 L160.28,195.41 L160.81,196.39 L161.34,197.36 L161.88,198.32 L162.42,199.28 L162.96,200.22 L163.51,201.16 L164.05,202.09 L164.60,203.01 L165.15,203.92 L165.71,204.83 L166.26,205.73 L166.82,206.62 L167.38,207.50 L167.94,208.37 L168.51,209.24 L169.08,210.10 L169.65,210.95 L170.22,211.80 L170.79,212.63 L171.37,213.46 L171.94,214.28 L172.52,215.10 L173.11,215.91 L173.69,216.71 L174.28,217.50 L174.87,218.29 L175.46,219.07 L176.06,219.84 L176.65,220.61 L177.25,221.37 L177.85,222.12 L178.45,222.87 L179.06,223.61 L179.67,224.34 L180.28,225.07 L180.89,225.79 L181.50,226.51 L182.12,227.22 L182.74,227.92 L183.36,228.62 L183.98,229.31 L184.61,230.00 L185.24,230.67 L185.87,231.35 L186.50,232.02 L187.13,232.68 L187.77,233.34 L188.41,233.99 L189.05,234.63 L189.69,235.27 L190.34,235.91 L190.99,236.54 L191.64,237.16 L192.29,237.78 L192.94,238.40 L193.60,239.01 L194.26,239.61 L194.92,240.21 L195.59,240.80 L196.25,241.39 L196.92,241.98 L197.59,242.56 L198.26,243.13 L198.94,243.70 L199.62,244.27 L200.30,244.83 L200.98,245.39 L201.66,245.94 L202.35,246.49 L203.04,247.03 L203.73,247.57 L204.42,248.11 L205.12,248.64 L205.82,249.16 L206.52,249.69 L207.22,250.21 L207.92,250.72 L208.63,251.23 L209.34,251.74 L210.05,252.24 L210.76,252.74 L211.48,253.23 L212.20,253.72 L212.92,254.21 L213.64,254.70 L214.36,255.18 L215.09,255.65 L215.82,256.12 L216.55,256.59 L217.28,257.06 L218.02,257.52 L218.76,257.98 L219.50,258.44 L220.24,258.89 L220.99,259.34 L221.73,259.78 L222.48,260.22 L223.24,260.66 L223.99,261.10 L224.75,261.53 L225.50,261.96 L226.27,262.39 L227.03,262.81 L227.79,263.23 L228.56,263.65 L229.33,264.06 L230.10,264.48 L230.88,264.88 L231.65,265.29 L232.43,265.69 L233.21,266.09 L234.00,266.49 L234.78,266.89 L235.57,267.28 L236.36,267.67 L237.15,268.05 L237.95,268.44 L238.74,268.82 L239.54,269.20 L240.35,269.57 L241.15,269.95 L241.95,270.32 L242.76,270.69 L243.57,271.05 L244.39,271.42 L245.20,271.78 L246.02,272.14 L246.84,272.50 L247.66,272.85 L248.48,273.20 L249.31,273.55 L250.14,273.90 L250.97,274.25 L251.80,274.59 L252.64,274.93 L253.47,275.27 L254.31,275.61 L255.16,275.94 L256.00,276.27 L256.85,276.60 L257.69,276.93 L258.55,277.26 L259.40,277.58 L260.25,277.91 L261.11,278.23 L261.97,278.55 L262.83,278.86 L263.70,279.18 L264.57,279.49 L265.43,279.80 L266.31,280.11 L267.18,280.42 L268.06,280.72 L268.93,281.03 L269.81,281.33 L270.70,281.63 L271.58,281.93 L272.47,282.23 L273.36,282.52 L274.25,282.82 L275.14,283.11 L276.04,283.40 L276.94,283.69 L277.84,283.97 L278.74,284.26 L279.65,284.54 L280.55,284.83 L281.46,285.11 L282.37,285.39 L283.29,285.66 L284.20,285.94 L285.12,286.21 L286.04,286.49 L286.97,286.76 L287.89,287.03 L288.82,287.30 L289.75,287.57 L290.68,287.83 L291.62,288.10 L292.55,288.36 L293.49,288.62 L294.43,288.88 L295.38,289.14 L296.32,289.40 L297.27,289.66 L298.22,289.91 L299.17,290.16 L300.13,290.42 L301.08,290.67 L302.04,290.92 L303.00,291.17 L303.97,291.42 L304.93,291.66 L305.90,291.91 L306.87,292.15 L307.85,292.40 L308.82,292.64 L309.80,292.88 L310.78,293.12 L311.76,293.36 L312.74,293.59 L313.73,293.83 L314.72,294.06 L315.71,294.30 L316.70,294.53 L317.70,294.76 L318.69,294.99 L319.69,295.22 L320.70,295.45 L321.70,295.68 L322.71,295.91 L323.72,296.13 L324.73,296.36 L325.74,296.58 L326.76,296.80 L327.77,297.03 L328.79,297.25 L329.82,297.47 L330.84,297.69 L331.87,297.90 L332.90,298.12 L333.93,298.34 L334.96,298.55 L336.00,298.77 L337.03,298.98 L338.07,299.19 L339.12,299.40 L340.16,299.61 L341.21,299.82 L342.26,300.03 L343.31,300.24 L344.36,300.45 L345.42,300.66 L346.48,300.86 L347.54,301.07 L348.60,301.27 L349.67,301.47 L350.73,301.68 L351.80,301.88 L352.88,302.08 L353.95,302.28 L355.03,302.48 L356.11,302.68 L357.19,302.88 L358.27,303.07 L359.35,303.27 L360.44,303.47 L361.53,303.66 L362.62,303.86 L363.72,304.05 L364.82,304.24 L365.91,304.44 L367.02,304.63 L368.12,304.82 L369.22,305.01 L370.33,305.20 L371.44,305.39 L372.56,305.58 L373.67,305.76 L374.79,305.95 L375.91,306.14 L377.03,306.32 L378.15,306.51 L379.28,306.69 L380.41,306.88 L381.54,307.06 L382.67,307.24 L383.80,307.43 L384.94,307.61 L386.08,307.79 L387.22,307.97 L388.37,308.15 L389.51,308.33 L390.66,308.51 L391.81,308.68 L392.97,308.86 L394.12,309.04 L395.28,309.22 L396.44,309.39 L397.60,309.57 L398.76,309.74 L399.93,309.92 L401.10,310.09 L402.27,310.26 L403.44,310.44 L404.62,310.61 L405.80,310.78 L406.98,310.95 L408.16,311.12 L409.34,311.29 L410.53,311.46 L411.72,311.63 L412.91,311.80 L414.11,311.97 L415.30,312.14 L416.50,312.31 L417.70,312.47 L418.90,312.64 L420.11,312.81 L421.31,312.97 L422.52,313.14 L423.74,313.30 L424.95,313.47 L426.17,313.63 L427.38,313.80 L428.60,313.96 L429.83,314.12 L431.05,314.29 L432.28,314.45 L433.51,314.61 L434.74,314.77 L435.98,314.93 L437.21,315.09 L438.45,315.25 L439.69,315.41 L440.93,315.57 L442.18,315.73 L443.43,315.89 L444.68,316.05 L445.93,316.21 L447.18,316.36 L448.44,316.52 L449.70,316.68 L450.96,316.83 L452.23,316.99 L453.49,317.15 L454.76,317.30 L456.03,317.46 L457.30,317.61 L458.58,317.77 L459.85,317.92 L461.13,318.07 L462.41,318.23 L463.70,318.38 L464.98,318.53 L466.27,318.69 L467.56,318.84 L468.86,318.99 L470.15,319.14 L471.45,319.29 L472.75,319.44 L474.05,319.59 L475.35,319.74 L476.66,319.89 L477.97,320.04 L479.28,320.19 L480.59,320.34 L481.91,320.49 L483.23,320.64 L484.54,320.79 L485.87,320.94 L487.19,321.09 L488.52,321.23 L489.85,321.38 L491.18,321.53 L492.51,321.67 L493.85,321.82 L495.18,321.97 L496.53,322.11 L497.87,322.26 L499.21,322.41 L500.56,322.55 L501.91,322.70" stroke="#996633" stroke-width="4.1" stroke-dasharray="10.9 3.616"/>
</g>
<g stroke="#222" stroke-opacity="0.57" stroke-width="1" fill="none">
<line x1="88" y1="12.5" x2="533" y2="12.5"/><line x1="88" y1="322.5" x2="533" y2="322.5"/><line x1="88.5" y1="12" x2="88.5" y2="323"/><line x1="532.5" y1="12" x2="532.5" y2="323"/>
<line x1="97.60" y1="322.50" x2="97.60" y2="317.10"/>
<line x1="97.60" y1="12.50" x2="97.60" y2="17.90"/>
<line x1="118.90" y1="322.50" x2="118.90" y2="319.30"/>
<line x1="118.90" y1="12.50" x2="118.90" y2="15.70"/>
<line x1="140.20" y1="322.50" x2="140.20" y2="319.30"/>
<line x1="140.20" y1="12.50" x2="140.20" y2="15.70"/>
<line x1="161.50" y1="322.50" x2="161.50" y2="319.30"/>
<line x1="161.50" y1="12.50" x2="161.50" y2="15.70"/>
<line x1="182.80" y1="322.50" x2="182.80" y2="319.30"/>
<line x1="182.80" y1="12.50" x2="182.80" y2="15.70"/>
<line x1="204.10" y1="322.50" x2="204.10" y2="317.10"/>
<line x1="204.10" y1="12.50" x2="204.10" y2="17.90"/>
<line x1="225.40" y1="322.50" x2="225.40" y2="319.30"/>
<line x1="225.40" y1="12.50" x2="225.40" y2="15.70"/>
<line x1="246.70" y1="322.50" x2="246.70" y2="319.30"/>
<line x1="246.70" y1="12.50" x2="246.70" y2="15.70"/>
<line x1="268.00" y1="322.50" x2="268.00" y2="319.30"/>
<line x1="268.00" y1="12.50" x2="268.00" y2="15.70"/>
<line x1="289.30" y1="322.50" x2="289.30" y2="319.30"/>
<line x1="289.30" y1="12.50" x2="289.30" y2="15.70"/>
<line x1="310.60" y1="322.50" x2="310.60" y2="317.10"/>
<line x1="310.60" y1="12.50" x2="310.60" y2="17.90"/>
<line x1="331.90" y1="322.50" x2="331.90" y2="319.30"/>
<line x1="331.90" y1="12.50" x2="331.90" y2="15.70"/>
<line x1="353.20" y1="322.50" x2="353.20" y2="319.30"/>
<line x1="353.20" y1="12.50" x2="353.20" y2="15.70"/>
<line x1="374.50" y1="322.50" x2="374.50" y2="319.30"/>
<line x1="374.50" y1="12.50" x2="374.50" y2="15.70"/>
<line x1="395.80" y1="322.50" x2="395.80" y2="319.30"/>
<line x1="395.80" y1="12.50" x2="395.80" y2="15.70"/>
<line x1="417.10" y1="322.50" x2="417.10" y2="317.10"/>
<line x1="417.10" y1="12.50" x2="417.10" y2="17.90"/>
<line x1="438.40" y1="322.50" x2="438.40" y2="319.30"/>
<line x1="438.40" y1="12.50" x2="438.40" y2="15.70"/>
<line x1="459.70" y1="322.50" x2="459.70" y2="319.30"/>
<line x1="459.70" y1="12.50" x2="459.70" y2="15.70"/>
<line x1="481.00" y1="322.50" x2="481.00" y2="319.30"/>
<line x1="481.00" y1="12.50" x2="481.00" y2="15.70"/>
<line x1="502.30" y1="322.50" x2="502.30" y2="319.30"/>
<line x1="502.30" y1="12.50" x2="502.30" y2="15.70"/>
<line x1="523.60" y1="322.50" x2="523.60" y2="317.10"/>
<line x1="523.60" y1="12.50" x2="523.60" y2="17.90"/>
<line x1="88.50" y1="322.65" x2="93.90" y2="322.65"/>
<line x1="532.50" y1="322.65" x2="527.10" y2="322.65"/>
<line x1="88.50" y1="312.32" x2="91.70" y2="312.32"/>
<line x1="532.50" y1="312.32" x2="529.30" y2="312.32"/>
<line x1="88.50" y1="301.98" x2="91.70" y2="301.98"/>
<line x1="532.50" y1="301.98" x2="529.30" y2="301.98"/>
<line x1="88.50" y1="291.65" x2="91.70" y2="291.65"/>
<line x1="532.50" y1="291.65" x2="529.30" y2="291.65"/>
<line x1="88.50" y1="281.32" x2="91.70" y2="281.32"/>
<line x1="532.50" y1="281.32" x2="529.30" y2="281.32"/>
<line x1="88.50" y1="270.98" x2="93.90" y2="270.98"/>
<line x1="532.50" y1="270.98" x2="527.10" y2="270.98"/>
<line x1="88.50" y1="260.65" x2="91.70" y2="260.65"/>
<line x1="532.50" y1="260.65" x2="529.30" y2="260.65"/>
<line x1="88.50" y1="250.32" x2="91.70" y2="250.32"/>
<line x1="532.50" y1="250.32" x2="529.30" y2="250.32"/>
<line x1="88.50" y1="239.98" x2="91.70" y2="239.98"/>
<line x1="532.50" y1="239.98" x2="529.30" y2="239.98"/>
<line x1="88.50" y1="229.65" x2="91.70" y2="229.65"/>
<line x1="532.50" y1="229.65" x2="529.30" y2="229.65"/>
<line x1="88.50" y1="219.32" x2="93.90" y2="219.32"/>
<line x1="532.50" y1="219.32" x2="527.10" y2="219.32"/>
<line x1="88.50" y1="208.98" x2="91.70" y2="208.98"/>
<line x1="532.50" y1="208.98" x2="529.30" y2="208.98"/>
<line x1="88.50" y1="198.65" x2="91.70" y2="198.65"/>
<line x1="532.50" y1="198.65" x2="529.30" y2="198.65"/>
<line x1="88.50" y1="188.32" x2="91.70" y2="188.32"/>
<line x1="532.50" y1="188.32" x2="529.30" y2="188.32"/>
<line x1="88.50" y1="177.98" x2="91.70" y2="177.98"/>
<line x1="532.50" y1="177.98" x2="529.30" y2="177.98"/>
<line x1="88.50" y1="167.65" x2="93.90" y2="167.65"/>
<line x1="532.50" y1="167.65" x2="527.10" y2="167.65"/>
<line x1="88.50" y1="157.32" x2="91.70" y2="157.32"/>
<line x1="532.50" y1="157.32" x2="529.30" y2="157.32"/>
<line x1="88.50" y1="146.98" x2="91.70" y2="146.98"/>
<line x1="532.50" y1="146.98" x2="529.30" y2="146.98"/>
<line x1="88.50" y1="136.65" x2="91.70" y2="136.65"/>
<line x1="532.50" y1="136.65" x2="529.30" y2="136.65"/>
<line x1="88.50" y1="126.32" x2="91.70" y2="126.32"/>
<line x1="532.50" y1="126.32" x2="529.30" y2="126.32"/>
<line x1="88.50" y1="115.98" x2="93.90" y2="115.98"/>
<line x1="532.50" y1="115.98" x2="527.10" y2="115.98"/>
<line x1="88.50" y1="105.65" x2="91.70" y2="105.65"/>
<line x1="532.50" y1="105.65" x2="529.30" y2="105.65"/>
<line x1="88.50" y1="95.32" x2="91.70" y2="95.32"/>
<line x1="532.50" y1="95.32" x2="529.30" y2="95.32"/>
<line x1="88.50" y1="84.98" x2="91.70" y2="84.98"/>
<line x1="532.50" y1="84.98" x2="529.30" y2="84.98"/>
<line x1="88.50" y1="74.65" x2="91.70" y2="74.65"/>
<line x1="532.50" y1="74.65" x2="529.30" y2="74.65"/>
<line x1="88.50" y1="64.32" x2="93.90" y2="64.32"/>
<line x1="532.50" y1="64.32" x2="527.10" y2="64.32"/>
<line x1="88.50" y1="53.98" x2="91.70" y2="53.98"/>
<line x1="532.50" y1="53.98" x2="529.30" y2="53.98"/>
<line x1="88.50" y1="43.65" x2="91.70" y2="43.65"/>
<line x1="532.50" y1="43.65" x2="529.30" y2="43.65"/>
<line x1="88.50" y1="33.32" x2="91.70" y2="33.32"/>
<line x1="532.50" y1="33.32" x2="529.30" y2="33.32"/>
<line x1="88.50" y1="22.98" x2="91.70" y2="22.98"/>
<line x1="532.50" y1="22.98" x2="529.30" y2="22.98"/>
<line x1="88.50" y1="12.65" x2="93.90" y2="12.65"/>
<line x1="532.50" y1="12.65" x2="527.10" y2="12.65"/>
</g>
<g opacity="0.999">
<g font-size="21.65"><text transform="translate(97.50,347) scale(1,1.06)" text-anchor="middle">0.00</text><text transform="translate(204.00,347) scale(1,1.06)" text-anchor="middle">0.05</text><text transform="translate(310.50,347) scale(1,1.06)" text-anchor="middle">0.10</text><text transform="translate(417.00,347) scale(1,1.06)" text-anchor="middle">0.15</text><text transform="translate(523.50,347) scale(1,1.06)" text-anchor="middle">0.20</text></g>
<g font-size="21.65"><text transform="translate(82.9,329.40) scale(1,1.05)" text-anchor="end">0</text><text transform="translate(82.9,277.73) scale(1,1.05)" text-anchor="end">50</text><text transform="translate(82.9,226.07) scale(1,1.05)" text-anchor="end">100</text><text transform="translate(82.9,174.40) scale(1,1.05)" text-anchor="end">150</text><text transform="translate(82.9,122.73) scale(1,1.05)" text-anchor="end">200</text><text transform="translate(82.9,71.07) scale(1,1.05)" text-anchor="end">250</text><text transform="translate(82.9,19.40) scale(1,1.05)" text-anchor="end">300</text></g>
<text font-size="21.65" x="175.65" y="380.50">Velocity difference</text>
<text class="ser" font-size="24" x="357.85" y="381.00">δ</text>
<text font-size="21.65" x="368.55" y="380.50">v</text>
<text font-size="19.6" x="396.66" y="380.70">(</text>
<text font-size="21.65" x="403.70" y="380.50">m</text>
<text font-size="21.65" x="429.35" y="380.50">s</text>
<text font-size="19.6" x="441.25" y="380.70">)</text>
<text font-size="21.65" transform="translate(24.30,284.10) rotate(-90)">Acceleration</text>
<text class="it" font-size="23" transform="translate(24.30,156.80) rotate(-90) scale(1.07,1)">A</text>
<text class="it" font-size="16.5" transform="translate(28.80,144.80) rotate(-90)">q</text>
<text font-size="19.6" transform="translate(24.30,110.65) rotate(-90)">(</text>
<text font-size="21.65" transform="translate(24.30,103.38) rotate(-90)">m</text>
<text class="it" font-size="21.65" transform="translate(24.30,77.45) rotate(-90) scale(1.18,1)">s</text>
<text font-size="17.5" transform="translate(13.30,66.50) rotate(-90)">2</text>
<text font-size="19.6" transform="translate(24.30,56.55) rotate(-90)">)</text>
<line x1="422.9" y1="384.4" x2="428.5" y2="366.8" stroke="#000" stroke-width="1.5"/>
<line x1="27.3" y1="83.8" x2="9.6" y2="78.8" stroke="#000" stroke-width="1.5"/>
</g>
</svg>
</body></html>
